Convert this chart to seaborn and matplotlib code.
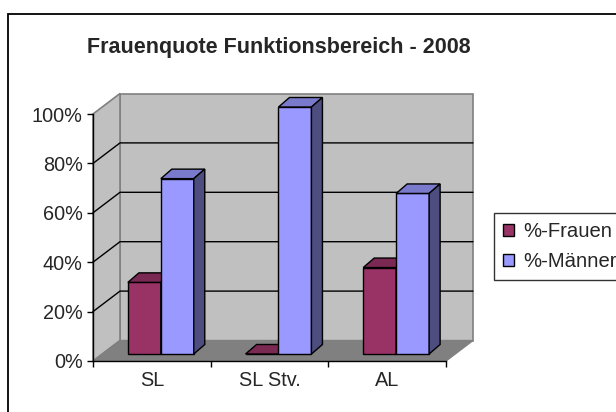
"""
Frauenquote Funktionsbereich 2008 - Excel-like 3D column chart.
"""

import numpy as np
import pandas as pd
import seaborn as sns
import matplotlib.pyplot as plt
from matplotlib.patches import Polygon, Patch, Rectangle
from matplotlib.ticker import PercentFormatter

# Data
categories = ['SL', 'SL Stv.', 'AL']
series = ['%-Frauen', '%-Männer']
frauen = [29, 0, 35]
maenner = [71, 100, 65]

df = pd.DataFrame({
    'Funktion': categories * 2,
    'Gruppe': [series[0]] * 3 + [series[1]] * 3,
    'Anteil': frauen + maenner,
})

# colours (front, top, side)
front_cols = ['#993366', '#9999FF']
top_cols = ['#7A2952', '#7A7ACC']
side_cols = ['#5C1F3D', '#4D4D80']

sns.set_style('white')
plt.rcParams['font.family'] = ['Liberation Sans', 'DejaVu Sans']

W, H = 616, 412
fig = plt.figure(figsize=(W / 100, H / 100), dpi=100)
# front box of the plot: x 93..446 px, y 361 (0%) .. 114 (100%)
ax = fig.add_axes([93 / W, (H - 361) / H, 353 / W, 247 / H])

sns.barplot(data=df, x='Funktion', y='Anteil', hue='Gruppe',
            palette=front_cols, width=0.56, gap=0, saturation=1,
            edgecolor='black', linewidth=1, legend=False, ax=ax)
bars = list(ax.patches)

ax.set_xlim(-0.5, 2.5)
ax.set_ylim(0, 100)

px_x = 353 / 3.0     # pixels per category
px_y = 247 / 100.0   # pixels per percent

# offsets in data units
wdx, wdy = 27 / px_x, 20.5 / px_y    # wall depth
bdx, bdy = 9 / px_x, 7 / px_y        # bar position inside depth
ddx, ddy = 11 / px_x, 9.5 / px_y     # bar depth

wall_c = '#C0C0C0'
floor_c = '#808080'
edge_c = '#808080'

# back wall
ax.add_patch(Polygon([(-0.5 + wdx, wdy), (2.5 + wdx, wdy),
                      (2.5 + wdx, 100 + wdy), (-0.5 + wdx, 100 + wdy)],
                     closed=True, fc=wall_c, ec=edge_c, lw=1.2,
                     zorder=0.5, clip_on=False))
# left wall
ax.add_patch(Polygon([(-0.5, 0), (-0.5 + wdx, wdy),
                      (-0.5 + wdx, 100 + wdy), (-0.5, 100)],
                     closed=True, fc=wall_c, ec=edge_c, lw=1.2,
                     zorder=0.5, clip_on=False))
# floor
ax.add_patch(Polygon([(-0.5, 0), (2.5, 0), (2.5 + wdx, wdy), (-0.5 + wdx, wdy)],
                     closed=True, fc=floor_c, ec=edge_c, lw=1,
                     zorder=0.6, clip_on=False))

# gridlines on walls
for g in [20, 40, 60, 80]:
    ax.plot([-0.5, -0.5 + wdx, 2.5 + wdx], [g, g + wdy, g + wdy],
            color='black', lw=1, zorder=0.8, clip_on=False)

# 3D bars: shift front faces, add top and side faces
for i, p in enumerate(bars):
    k = 0 if i < 3 else 1
    z = 3 + k
    x0 = p.get_x() + bdx
    w = p.get_width()
    h = p.get_height()
    p.set_x(x0)
    p.set_y(bdy)
    p.set_zorder(z)
    p.set_clip_on(False)
    y1 = bdy + h
    x1 = x0 + w
    ax.add_patch(Polygon([(x0, y1), (x1, y1), (x1 + ddx, y1 + ddy), (x0 + ddx, y1 + ddy)],
                         closed=True, fc=top_cols[k], ec='black', lw=1,
                         zorder=z, clip_on=False))
    ax.add_patch(Polygon([(x1, bdy), (x1 + ddx, bdy + ddy), (x1 + ddx, y1 + ddy), (x1, y1)],
                         closed=True, fc=side_cols[k], ec='black', lw=1,
                         zorder=z, clip_on=False))

# axes styling
for s in ['top', 'right']:
    ax.spines[s].set_visible(False)
for s in ['left', 'bottom']:
    ax.spines[s].set_color('black')
    ax.spines[s].set_linewidth(1)
    ax.spines[s].set_zorder(2)
ax.set_xlabel('')
ax.set_ylabel('')
ax.set_yticks([0, 20, 40, 60, 80, 100])
ax.yaxis.set_major_formatter(PercentFormatter(xmax=100, decimals=0))
ax.tick_params(axis='y', direction='out', length=4.5, width=1, pad=3,
               labelsize=14.3, left=True, color='black')
ax.set_xticks([0, 1, 2])
ax.set_xticklabels(categories)
ax.set_xticks([-0.5, 0.5, 1.5, 2.5], minor=True)
ax.tick_params(axis='x', which='major', length=0, pad=7, labelsize=14.3)
ax.tick_params(axis='x', which='minor', direction='out', length=4,
               width=1, bottom=True, color='black')
ax.set_facecolor('none')

# title
fig.text(279 / W, 1 - 47 / H, 'Frauenquote Funktionsbereich - 2008',
         ha='center', va='center', fontsize=15.5, fontweight='bold')

# legend
handles = [Patch(fc=front_cols[0], ec='black', lw=1),
           Patch(fc=front_cols[1], ec='black', lw=1)]
leg = fig.legend(handles, series, loc='upper left',
                 bbox_to_anchor=(494 / W, 1 - 213 / H),
                 fontsize=14.6, frameon=True, fancybox=False, shadow=False,
                 handlelength=0.55, handleheight=0.55, handletextpad=0.45,
                 labelspacing=0.55, borderpad=0.45, borderaxespad=0)
leg.get_frame().set_edgecolor('black')
leg.get_frame().set_linewidth(1)

# chart area border
fig.add_artist(Rectangle((7.5 / W, -0.1), 2, (H - 14) / H + 0.1,
                         transform=fig.transFigure, fill=False,
                         ec='black', lw=1.3))

fig.savefig('out.png', dpi=100)
